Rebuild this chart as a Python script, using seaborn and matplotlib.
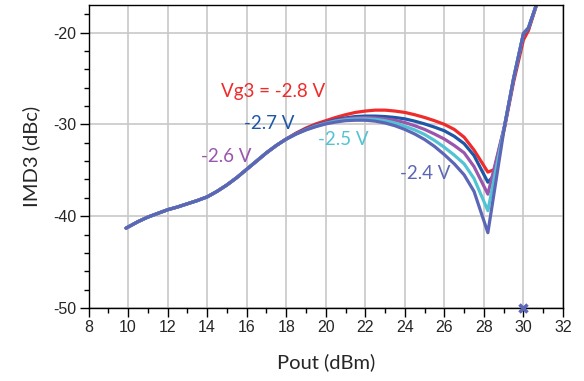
import numpy as np
import pandas as pd
import seaborn as sns
import matplotlib
matplotlib.use("Agg")
import matplotlib.pyplot as plt
from matplotlib.ticker import MultipleLocator

# shared low-power part (all bias points overlap here)
x_low = [9.9, 10.5, 11, 11.5, 12, 12.5, 13, 13.5, 14, 14.5, 15, 15.5, 16, 16.5, 17, 17.5, 18]
y_low = [-41.3, -40.6, -40.1, -39.7, -39.3, -39.0, -38.65, -38.3, -37.9, -37.3, -36.6,
         -35.8, -34.9, -34.0, -33.1, -32.3, -31.6]

x_mid = [18.5, 19, 19.5, 20, 20.5, 21, 21.5, 22, 22.5, 23, 23.5, 24, 24.5, 25, 25.5,
         26, 26.5, 27, 27.5, 28.2]

y_28 = [-30.95, -30.4, -29.95, -29.6, -29.25, -28.95, -28.7, -28.55, -28.45, -28.45, -28.55,
        -28.7, -28.95, -29.25, -29.6, -30.0, -30.55, -31.4, -32.8, -35.2]
y_27 = [-31.0, -30.5, -30.1, -29.8, -29.5, -29.3, -29.15, -29.1, -29.1, -29.15, -29.25,
        -29.4, -29.65, -29.95, -30.3, -30.7, -31.3, -32.1, -33.4, -36.3]
y_26 = [-31.05, -30.55, -30.15, -29.85, -29.6, -29.4, -29.3, -29.25, -29.3, -29.4, -29.55,
        -29.8, -30.15, -30.55, -31.05, -31.6, -32.3, -33.1, -34.6, -37.6]
y_25 = [-31.05, -30.6, -30.2, -29.9, -29.65, -29.5, -29.4, -29.4, -29.45, -29.6, -29.85,
        -30.2, -30.6, -31.1, -31.75, -32.5, -33.35, -34.3, -35.9, -39.4]
y_24 = [-31.05, -30.6, -30.25, -29.95, -29.75, -29.6, -29.55, -29.55, -29.65, -29.85, -30.15,
        -30.55, -31.05, -31.65, -32.4, -33.3, -34.3, -35.5, -37.3, -41.8]

# rising part after the sweet spot
x_hi_28 = [28.55, 29.05, 29.5, 30.0, 30.25, 30.65]
y_hi_28 = [-34.9, -30.3, -25.4, -20.8, -19.8, -17.1]
x_hi_27 = [28.45, 29.05, 29.5, 30.0, 30.25, 30.65]
y_hi_27 = [-35.7, -30.15, -25.1, -20.2, -19.6, -17.0]
x_hi = [29.05, 29.5, 30.0, 30.25, 30.65]
y_hi = [-30.1, -25.0, -20.1, -19.5, -17.0]

labels = ["-2.8", "-2.7", "-2.6", "-2.5", "-2.4"]
colors = ["#ef2b2b", "#1f56a6", "#9a55ad", "#52c3d3", "#5c66b6"]

series = {
    "-2.8": (x_low + x_mid + x_hi_28, y_low + y_28 + y_hi_28),
    "-2.7": (x_low + x_mid + x_hi_27, y_low + y_27 + y_hi_27),
    "-2.6": (x_low + x_mid + x_hi, y_low + y_26 + y_hi),
    "-2.5": (x_low + x_mid + x_hi, y_low + y_25 + y_hi),
    "-2.4": (x_low + x_mid + x_hi, y_low + y_24 + y_hi),
}

rows = []
for k in labels:
    xs, ys = series[k]
    for a, b in zip(xs, ys):
        rows.append({"Pout": a, "IMD3": b, "Vg3": k})
df = pd.DataFrame(rows)

sns.set_style("white")
plt.rcParams["font.family"] = ["Liberation Sans", "DejaVu Sans"]
plt.rcParams["axes.unicode_minus"] = False

fig = plt.figure(figsize=(5.84, 3.81), dpi=100)
ax = fig.add_axes([88.5 / 584, 1 - 308 / 381, (563 - 88.5) / 584, (308 - 5) / 381])

sns.lineplot(data=df, x="Pout", y="IMD3", hue="Vg3", hue_order=labels,
             palette=colors, estimator=None, sort=False, linewidth=2.3,
             legend=False, ax=ax)

# marker sitting on the x axis at 30 dBm
ax.plot([30], [-50], marker="x", color="#5c66b6", markersize=6, markeredgewidth=2.5,
        clip_on=False, zorder=5)

ax.set_xlim(8, 32)
ax.set_ylim(-50, -17.0)
ax.xaxis.set_major_locator(MultipleLocator(2))
ax.xaxis.set_minor_locator(MultipleLocator(1))
ax.yaxis.set_major_locator(MultipleLocator(10))
ax.yaxis.set_minor_locator(MultipleLocator(2))
ax.grid(True, which="major", color="#c8c8c8", linewidth=1.2)
ax.set_axisbelow(True)
ax.tick_params(which="major", direction="out", length=6.5, width=1, color="black",
               labelsize=11.5, pad=2.5, bottom=True, left=True)
ax.tick_params(which="minor", direction="out", length=3.5, width=1, color="black",
               bottom=True, left=True)
for s in ax.spines.values():
    s.set_color("black")
    s.set_linewidth(1.0)

lab_font = ["Lato", "DejaVu Sans"]
ax.set_xlabel("Pout (dBm)", fontsize=14.5, family=lab_font, labelpad=13)
ax.set_ylabel("IMD3 (dBc)", fontsize=14.5, family=lab_font, labelpad=9)

txt = dict(fontsize=13.5, family=lab_font, va="center", ha="left")
ax.text(14.7, -26.4, "Vg3 = -2.8 V", color=colors[0], **txt)
ax.text(15.85, -29.9, "-2.7 V", color=colors[1], **txt)
ax.text(13.7, -33.5, "-2.6 V", color=colors[2], **txt)
ax.text(19.6, -31.6, "-2.5 V", color=colors[3], **txt)
ax.text(23.75, -35.4, "-2.4 V", color=colors[4], **txt)

fig.savefig("out.png", dpi=100)
